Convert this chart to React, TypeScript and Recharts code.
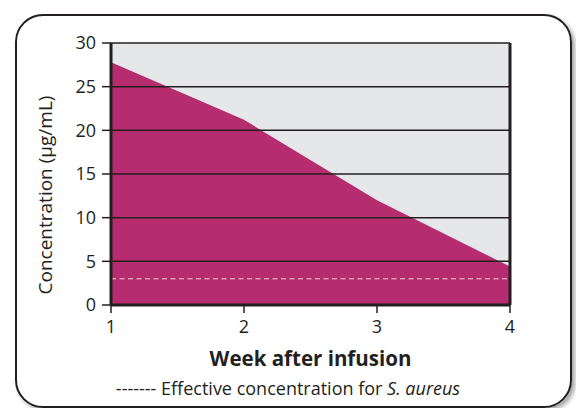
import { ComposedChart, Area, XAxis, YAxis, ReferenceLine, CartesianGrid } from 'recharts'

const weeks = [1, 2, 3, 4]
const concentration = [27.8, 21.2, 12.0, 4.4]
const effectiveLevel = 3
const yTicks = [0, 5, 10, 15, 20, 25, 30]
const gridLevels = [5, 10, 15, 20, 25, 30]

const data = weeks.map((w, i) => ({ week: w, conc: concentration[i] }))

const font = '"Open Sans", "Noto Sans", sans-serif'
const ink = '#231f20'

export default function App() {
  return (
    <div style={{ position: 'absolute', left: 0, top: 0, width: 576, height: 408, overflow: 'hidden', background: '#fff', fontFamily: font }}>
      <div style={{
        position: 'absolute', left: 15, top: 14, width: 553, height: 390,
        border: `2.5px solid ${ink}`, borderRadius: 28, boxShadow: '3px 3px 4px rgba(0,0,0,0.35)',
      }} />
      <ComposedChart width={576} height={408} data={data} margin={{ top: 43, right: 66, bottom: 43, left: 41 }}
        style={{ position: 'absolute', left: 0, top: 0 }}>
        <CartesianGrid horizontal={false} vertical={false} fill="#e6e7e8" />
        <XAxis dataKey="week" type="number" domain={[1, 4]} ticks={weeks} height={60}
          axisLine={{ stroke: ink, strokeWidth: 3 }} tickLine={{ stroke: ink, strokeWidth: 1.5 }} tickSize={8} tickMargin={7}
          tick={{ fontSize: 18, fill: ink, fontFamily: font }}
          label={{ value: 'Week after infusion', position: 'insideBottom', offset: -1, fontSize: 20.5, fontWeight: 700, fill: ink, fontFamily: font }} />
        <YAxis type="number" domain={[0, 30]} ticks={yTicks} width={70}
          axisLine={{ stroke: ink, strokeWidth: 3 }} tickLine={{ stroke: ink, strokeWidth: 1.5 }} tickSize={9} tickMargin={6}
          tick={{ fontSize: 18, fill: ink, fontFamily: font }} />
        <Area type="linear" dataKey="conc" stroke="none" fill="#b62d6f" fillOpacity={1} isAnimationActive={false} />
        {gridLevels.map(v => (
          <ReferenceLine key={v} y={v} stroke={ink} strokeWidth={1.5} />
        ))}
        <ReferenceLine y={effectiveLevel} stroke="#f0d0e0" strokeWidth={1} strokeDasharray="5 3.5" />
        <ReferenceLine x={4} stroke={ink} strokeWidth={3} />
      </ComposedChart>
      <div style={{
        position: 'absolute', left: 45, top: 195, transform: 'translate(-50%, -50%) rotate(-90deg)',
        whiteSpace: 'nowrap', fontSize: 19, lineHeight: '19px', color: ink,
      }}>
        Concentration (µg/mL)
      </div>
      <div style={{ position: 'absolute', left: 0, width: 576, top: 379, textAlign: 'center', fontSize: 18, lineHeight: '18px', color: ink }}>
        ------- Effective concentration for <i>S. aureus</i>
      </div>
    </div>
  )
}
